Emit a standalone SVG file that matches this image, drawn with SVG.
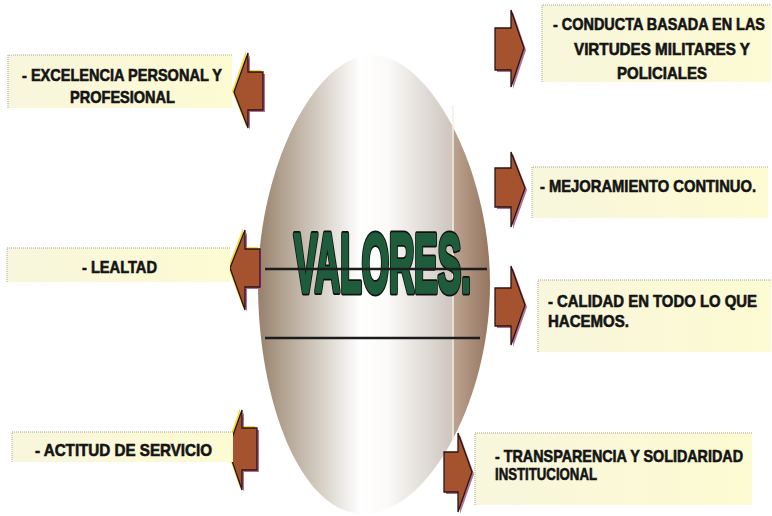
<svg xmlns="http://www.w3.org/2000/svg" width="772" height="516" viewBox="0 0 772 516">
<defs>
<linearGradient id="egg" gradientUnits="userSpaceOnUse" x1="258" y1="0" x2="490" y2="0">
<stop offset="0" stop-color="#95806b"/>
<stop offset="0.1" stop-color="#b0a08e"/>
<stop offset="0.28" stop-color="#d8d2c9"/>
<stop offset="0.44" stop-color="#ffffff"/>
<stop offset="0.56" stop-color="#fbfaf8"/>
<stop offset="0.72" stop-color="#e0dcd7"/>
<stop offset="0.835" stop-color="#cfc6bd"/>
<stop offset="0.845" stop-color="#bba290"/>
<stop offset="1" stop-color="#95755f"/>
</linearGradient>
<linearGradient id="box" x1="0" y1="0" x2="1" y2="0">
<stop offset="0" stop-color="#f8f6dc"/>
<stop offset="1" stop-color="#fdfbd2"/>
</linearGradient>
<style>
.box{fill:url(#box);}
.dot{stroke:#a9a38f;stroke-width:1;stroke-dasharray:1 1;fill:none;}
.lbl{font-family:"Liberation Sans Narrow","Liberation Sans",Arial,sans-serif;font-weight:bold;font-size:17px;fill:#141414;stroke:#141414;stroke-width:0.6;}
.arr{fill:#a4532e;stroke:#2a1512;stroke-width:1.3;stroke-linejoin:miter;}
.shL{fill:#f2dc3a;}
.shR{fill:#b5709a;}
.hl{stroke:#1c1c1c;stroke-width:2.5;}
.vt{font-family:"Liberation Sans",Arial,sans-serif;font-weight:bold;font-size:83px;stroke-linejoin:round;}
</style>
</defs>
<rect width="772" height="516" fill="#ffffff"/>

<g id="valores">
<path d="M372,55 C430,55 490,170 490,284 C490,400 428,514 364,514 C300,514 258,400 258,284 C258,170 314,55 372,55 Z" fill="url(#egg)"/>
<line x1="453" y1="105" x2="453" y2="440" stroke="#f3efe2" stroke-width="1.5"/>
<text class="vt" x="294" y="292" textLength="177" lengthAdjust="spacingAndGlyphs" fill="#111" stroke="#111" stroke-width="7">VALORES.</text>
<text class="vt" x="294" y="292" textLength="177" lengthAdjust="spacingAndGlyphs" fill="#1f5c3c" stroke="#1f5c3c" stroke-width="3.5">VALORES.</text>
<line class="hl" x1="265" y1="269" x2="487" y2="269"/>
<line class="hl" x1="265" y1="338" x2="480" y2="338"/>
</g>

<g id="connectors">
<polygon class="shL" points="232,91 246,51 246,70 261,70 261,108 246,108 246,126"/>
<polygon class="shR" points="236,94 250,55 250,74 265,74 265,112 250,112 250,130"/>
<polygon class="arr" points="234,92 248,53 248,72 263,72 263,110 248,110 248,128"/>

<polygon class="shR" points="497,30 513,30 513,12 526,50 513,89 513,72 497,72"/>
<polygon class="arr" points="495,28 511,28 511,10 524,48 511,87 511,70 495,70"/>

<polygon class="shR" points="497,170 513,170 513,154 527,190 513,229 513,209 497,209"/>
<polygon class="arr" points="495,168 511,168 511,152 525,188 511,227 511,207 495,207"/>

<polygon class="shR" points="497,290 513,290 513,268 527,307 513,347 513,328 497,328"/>
<polygon class="arr" points="495,288 511,288 511,266 525,305 511,345 511,326 495,326"/>

<polygon class="shL" points="228,267 243,228 243,247 258,247 258,285 243,285 243,308"/>
<polygon class="shR" points="232,270 247,232 247,251 262,251 262,289 247,289 247,312"/>
<polygon class="arr" points="230,268 245,230 245,249 260,249 260,287 245,287 245,310"/>

<polygon class="shL" points="226,448 240,408 240,426 255,426 255,468 240,468 240,488"/>
<polygon class="shR" points="230,451 244,412 244,430 259,430 259,472 244,472 244,492"/>
<polygon class="arr" points="228,449 242,410 242,428 257,428 257,470 242,470 242,490"/>

<polygon class="shR" points="446,454 460,454 460,435 474,474 460,514 460,494 446,494"/>
<polygon class="arr" points="444,452 458,452 458,433 472,472 458,512 458,492 444,492"/>
</g>

<g id="n-excelencia">
<rect class="box" x="8" y="55" width="224" height="53"/>
<path class="dot" d="M8,108 V55 H232"/>
<text class="lbl" x="22" y="80.5" textLength="200" lengthAdjust="spacingAndGlyphs">- EXCELENCIA PERSONAL Y</text>
<text class="lbl" x="70" y="103" textLength="105" lengthAdjust="spacingAndGlyphs">PROFESIONAL</text>
</g>

<g id="n-conducta">
<rect class="box" x="542" y="5" width="229" height="77"/>
<path class="dot" d="M542,82 V5 H771"/>
<text class="lbl" x="553" y="29.5" textLength="212" lengthAdjust="spacingAndGlyphs">- CONDUCTA BASADA EN LAS</text>
<text class="lbl" x="574" y="55" textLength="176" lengthAdjust="spacingAndGlyphs">VIRTUDES MILITARES Y</text>
<text class="lbl" x="617" y="78.5" textLength="90" lengthAdjust="spacingAndGlyphs">POLICIALES</text>
</g>

<g id="n-mejoramiento">
<rect class="box" x="532" y="167" width="236" height="51"/>
<path class="dot" d="M532,218 V167 H768"/>
<text class="lbl" x="540" y="192" textLength="216" lengthAdjust="spacingAndGlyphs">- MEJORAMIENTO CONTINUO.</text>
</g>

<g id="n-calidad">
<rect class="box" x="538" y="280" width="233" height="72"/>
<path class="dot" d="M538,352 V280 H771"/>
<text class="lbl" x="548" y="307" textLength="209" lengthAdjust="spacingAndGlyphs">- CALIDAD EN TODO LO QUE</text>
<text class="lbl" x="548" y="327" textLength="81" lengthAdjust="spacingAndGlyphs">HACEMOS.</text>
</g>

<g id="n-lealtad">
<rect class="box" x="7" y="248" width="223" height="34"/>
<path class="dot" d="M7,282 V248 H230"/>
<text class="lbl" x="82" y="273" textLength="75" lengthAdjust="spacingAndGlyphs">- LEALTAD</text>
</g>

<g id="n-actitud">
<rect class="box" x="12" y="432" width="221" height="30"/>
<path class="dot" d="M12,462 V432 H233"/>
<text class="lbl" x="35" y="456" textLength="177" lengthAdjust="spacingAndGlyphs">- ACTITUD DE SERVICIO</text>
</g>

<g id="n-transparencia">
<rect class="box" x="475" y="433" width="277" height="72"/>
<path class="dot" d="M475,505 V433 H752"/>
<text class="lbl" x="495" y="462" textLength="248" lengthAdjust="spacingAndGlyphs">- TRANSPARENCIA Y SOLIDARIDAD</text>
<text class="lbl" x="495" y="480" textLength="102" lengthAdjust="spacingAndGlyphs">INSTITUCIONAL</text>
</g>
</svg>
